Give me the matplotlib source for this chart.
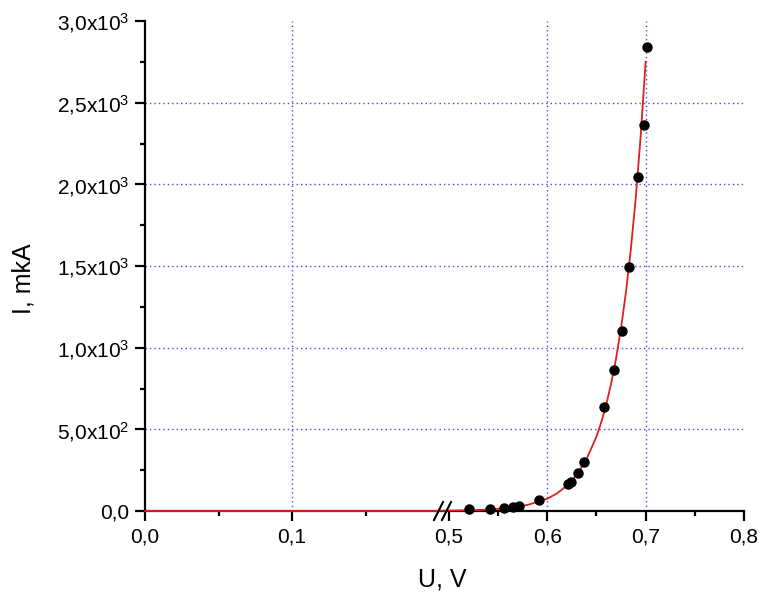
import matplotlib
matplotlib.use("Agg")
import matplotlib.pyplot as plt
from matplotlib.ticker import FixedLocator, FixedFormatter
from matplotlib.lines import Line2D
import numpy as np

plt.rcParams['font.family'] = ['Liberation Sans', 'DejaVu Sans']
plt.rcParams['mathtext.fontset'] = 'custom'
plt.rcParams['mathtext.rm'] = 'Liberation Sans'
plt.rcParams['mathtext.it'] = 'Liberation Sans:italic'
plt.rcParams['mathtext.bf'] = 'Liberation Sans:bold'

# measured points
U_data = [0.520, 0.542, 0.556, 0.565, 0.571, 0.592, 0.621, 0.624, 0.631, 0.637,
          0.658, 0.668, 0.676, 0.683, 0.692, 0.698, 0.701]
I_data = [12, 15, 20, 25, 30, 67, 165, 178, 233, 300,
          637, 863, 1102, 1494, 2045, 2363, 2841]

# fit curve
U_fit = [0.0, 0.2, 0.49, 0.52, 0.54, 0.56, 0.58, 0.60, 0.61, 0.62, 0.63, 0.64,
         0.65, 0.655, 0.66, 0.665, 0.67, 0.675, 0.68, 0.685, 0.69, 0.695, 0.70]
I_fit = [0, 0, 1.4, 4.2, 8.6, 18, 37, 75, 108, 155, 222, 318,
         455, 545, 652, 781, 935, 1119, 1339, 1603, 1919, 2297, 2750]

# axes ticks
y_major = [0, 500, 1000, 1500, 2000, 2500, 3000]
y_labels = ['0,0', r'$\mathrm{5{,}0x10^{2}}$', r'$\mathrm{1{,}0x10^{3}}$',
            r'$\mathrm{1{,}5x10^{3}}$', r'$\mathrm{2{,}0x10^{3}}$',
            r'$\mathrm{2{,}5x10^{3}}$', r'$\mathrm{3{,}0x10^{3}}$']
y_minor = [250, 750, 1250, 1750, 2250, 2750]
xl_major = [0.0, 0.1]
xl_labels = ['0,0', '0,1']
xl_minor = [0.05, 0.15]
xr_major = [0.5, 0.6, 0.7, 0.8]
xr_labels = ['0,5', '0,6', '0,7', '0,8']
xr_minor = [0.55, 0.65, 0.75]
xl_range = (0.0, 0.2)
xr_range = (0.49, 0.8)

W, H = 764, 599
fig = plt.figure(figsize=(W / 100, H / 100), dpi=100)

x0, x_brk, x1 = 145, 439, 744
y_top, y_bot = 21, 511
axL = fig.add_axes([x0 / W, 1 - y_bot / H, (x_brk - x0) / W, (y_bot - y_top) / H])
axR = fig.add_axes([x_brk / W, 1 - y_bot / H, (x1 - x_brk) / W, (y_bot - y_top) / H])

grid_color = '#4a4ad8'
tick_fs = 15
for ax, rng, maj, lab, mnr in [(axL, xl_range, xl_major, xl_labels, xl_minor),
                               (axR, xr_range, xr_major, xr_labels, xr_minor)]:
    ax.set_xlim(*rng)
    ax.set_ylim(0, 3000)
    ax.patch.set_alpha(0)
    for s in ['top', 'right']:
        ax.spines[s].set_visible(False)
    ax.spines['bottom'].set_linewidth(1.6)
    ax.spines['left'].set_linewidth(1.6)
    ax.xaxis.set_major_locator(FixedLocator(maj))
    ax.xaxis.set_major_formatter(FixedFormatter(lab))
    ax.xaxis.set_minor_locator(FixedLocator(mnr))
    ax.tick_params(axis='x', which='major', length=7, width=1.6, direction='out',
                   labelsize=tick_fs, pad=5)
    ax.tick_params(axis='x', which='minor', length=3.5, width=1.6, direction='out')
    # grid lines
    for xv in maj:
        if rng[0] < xv < rng[1] and xv not in (0.5,):
            ax.axvline(xv, color=grid_color, lw=1.0, ls=(0, (1, 2.2)), zorder=1)
    for yv in y_major[1:-1]:
        ax.axhline(yv, color=grid_color, lw=1.0, ls=(0, (1, 2.2)), zorder=1)
    # fit curve
    m = [(rng[0] <= u <= rng[1]) for u in U_fit]
    ax.plot([u for u, k in zip(U_fit, m) if k], [i for i, k in zip(I_fit, m) if k],
            color='#e02020', lw=1.3, zorder=4, clip_on=False)
    md = [(rng[0] <= u <= rng[1]) for u in U_data]
    ax.plot([u for u, k in zip(U_data, md) if k], [i for i, k in zip(I_data, md) if k],
            'o', color='black', ms=6.5, zorder=5, clip_on=False)

axL.yaxis.set_major_locator(FixedLocator(y_major))
axL.yaxis.set_major_formatter(FixedFormatter(y_labels))
axL.yaxis.set_minor_locator(FixedLocator(y_minor))
axL.tick_params(axis='y', which='major', length=7, width=1.6, direction='out',
                labelsize=tick_fs, pad=4)
axL.tick_params(axis='y', which='minor', length=3.5, width=1.6, direction='out')

axR.spines['left'].set_visible(False)
axR.tick_params(axis='y', which='both', left=False, labelleft=False)

# break marks
def px(x, y):
    return (x / W, 1 - y / H)
for dx in (0, 8):
    (ax_, ay_), (bx_, by_) = px(434 + dx, 520), px(443 + dx, 502)
    fig.add_artist(Line2D([ax_, bx_], [ay_, by_], color='black', lw=1.5))

fig.text(442 / W, 1 - 580 / H, 'U, V', ha='center', va='center', fontsize=18)
fig.text(24 / W, 1 - 279 / H, 'I, mkA', ha='center', va='center', fontsize=18,
         rotation=90)

fig.savefig('out.png', dpi=100)
